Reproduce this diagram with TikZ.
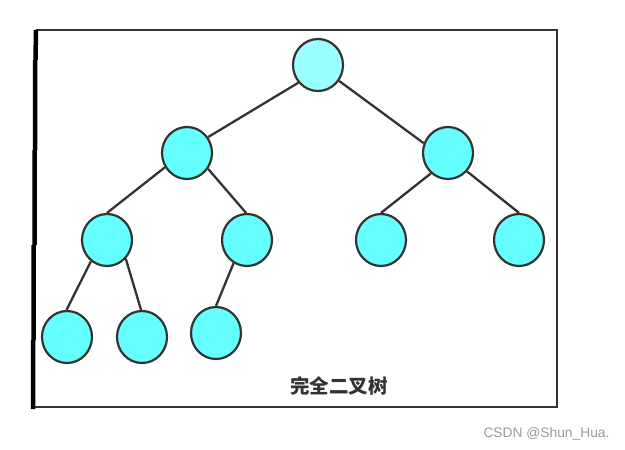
\documentclass[tikz,border=0pt]{standalone}
\usepackage{fontspec}
\setmainfont{Liberation Sans}
\newfontfamily\cjk{Noto Sans CJK SC}
\usetikzlibrary{shapes.geometric}
\definecolor{edgegray}{HTML}{333333}
\definecolor{rootfill}{HTML}{99FFFF}
\definecolor{nodefill}{HTML}{66FFFF}
\definecolor{wmgray}{HTML}{999999}
\begin{document}
\begin{tikzpicture}[x=1pt,y=-1pt,
  treenode/.style={ellipse, draw=edgegray, line width=2.2pt, fill=nodefill,
    minimum width=50pt, minimum height=52pt, inner sep=0pt},
  rootnode/.style={treenode, fill=rootfill},
  link/.style={draw=edgegray, line width=2.3pt},
  frameline/.style={draw=edgegray, line width=2.2pt}]
\useasboundingbox (0,0) rectangle (625,450);
% frame
\coordinate (tl) at (36,30);
\coordinate (tr) at (557,30);
\coordinate (br) at (557,407);
\coordinate (bl) at (33,407);
\draw[frameline] (tl) -- (tr) -- (br) -- (bl);
\draw[black, line width=4.5pt] (36,30) -- (35.5,60) (35,60) -- (35,150) (34.5,150) -- (34.5,245) (33.5,245) -- (33.5,340) (33,340) -- (33,409);
% nodes
\node[rootnode] (r) at (318,65) {};
\node[treenode] (a) at (187,153) {};
\node[treenode] (b) at (448,153) {};
\node[treenode] (c) at (107,240) {};
\node[treenode] (d) at (247,240) {};
\node[treenode] (e) at (381,240) {};
\node[treenode] (f) at (519,240) {};
\node[treenode] (g) at (67,337) {};
\node[treenode] (h) at (142,337) {};
\node[treenode] (i) at (216,333) {};
% edges
\draw[link] (r.222) -- (a.37);
\draw[link] (r.323) -- (b.158);
\draw[link] (a.213) -- (c.90);
\draw[link] (a.323) -- (d.92);
\draw[link] (b.230) -- (e.90);
\draw[link] (b.316) -- (f.90);
\draw[link] (c.233) -- (g.91);
\draw[link] (c.315) -- (h.92);
\draw[link] (d.240) -- (i.90);
% label
\node[text=edgegray, font=\cjk\bfseries\fontsize{19.5}{22}\selectfont] (lbl) at (339,386) {完全二叉树};
\node[text=wmgray, font=\fontsize{13.8}{16}\selectfont] (wm) at (546.5,434) {CSDN @Shun\_Hua.};
\end{tikzpicture}
\end{document}
